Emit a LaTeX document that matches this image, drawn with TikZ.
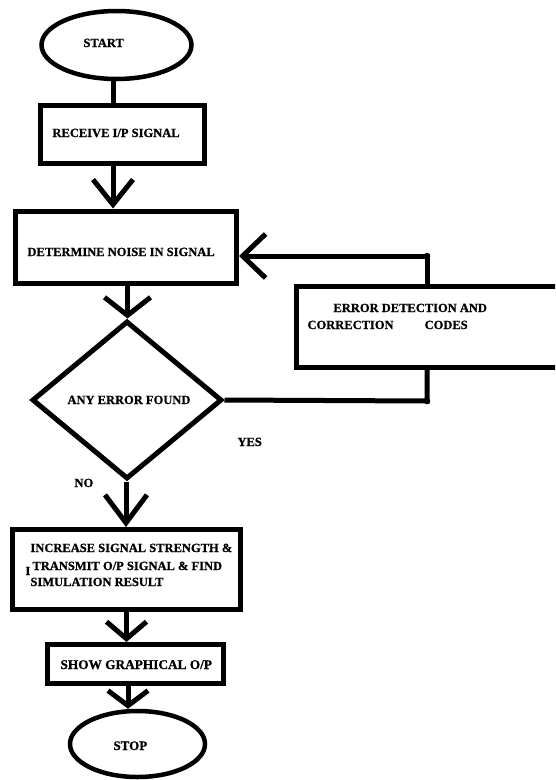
\documentclass[tikz,border=0pt]{standalone}
\usepackage{fontspec}
\setmainfont{Liberation Serif}[BoldFeatures={FakeBold=0.8}]
\usetikzlibrary{arrows.meta,shapes.geometric}
\begin{document}
\begin{tikzpicture}[x=1pt,y=-1pt,
  line width=5pt,
  box/.style={draw, rectangle, inner sep=0pt, line width=5pt},
  oval/.style={draw, ellipse, inner sep=0pt, line width=4.5pt},
  dia/.style={draw, diamond, inner sep=0pt, line width=5pt},
  txt/.style={font=\bfseries\fontsize{12.5}{15}\selectfont, inner sep=0pt, anchor=base west},
  chev/.style 2 args={-{Straight Barb[length=#1, width=#2]}},
  dot/.style={fill, circle, inner sep=0pt, minimum size=6.5pt}
]
\clip (0,0) rectangle (555,780);
\fill[white] (0,0) rectangle (555,780);

% shapes
\node[oval, minimum width=150pt, minimum height=68pt] (start) at (116.5,45) {};
\node[box, minimum width=164pt, minimum height=58pt] (receive) at (122.5,134.5) {};
\node[box, minimum width=221pt, minimum height=72pt] (det) at (126,247) {};
\node[dia, minimum width=190pt, minimum height=158pt] (decide) at (127,400) {};
\node[box, minimum width=320pt, minimum height=81pt] (err) at (456.5,327) {};
\node[box, minimum width=228pt, minimum height=80pt] (inc) at (126.5,569.5) {};
\node[box, minimum width=176pt, minimum height=39pt] (show) at (135.5,664) {};
\node[oval, minimum width=135pt, minimum height=66pt] (stop) at (137.5,744) {};

% texts
\node[txt] (starttxt) at (81,47) {START};
\node[txt] (rectxt) at (50,137) {RECEIVE I/P SIGNAL};
\node[txt] (dettxt) at (25,256) {DETERMINE NOISE IN SIGNAL};
\node[txt] (errtxta) at (331,312) {ERROR DETECTION AND};
\node[txt] (errtxtb) at (305,329) {CORRECTION\hspace{31pt}CODES};
\node[txt] (decidetxt) at (65,404) {ANY ERROR FOUND};
\node[txt] (yes) at (235,446) {YES};
\node[txt] (no) at (72,487) {NO};
\node[txt] (inca) at (28,552) {INCREASE SIGNAL STRENGTH \&};
\node[txt] (incb) at (30,570) {TRANSMIT O/P SIGNAL \& FIND};
\node[txt] (incc) at (28,586) {SIMULATION RESULT};
\node[txt] (incstray) at (23,575) {I};
\node[txt, font=\bfseries\fontsize{13.3}{15}\selectfont] (showtxt) at (58,669) {SHOW GRAPHICAL O/P};
\node[txt, font=\bfseries\fontsize{13}{15}\selectfont] (stoptxt) at (111,750) {STOP};

% connector guide coordinates
\coordinate (xa) at (113,0);
\coordinate (xb) at (127.5,0);
\coordinate (xc) at (126,0);
\coordinate (xd) at (126.5,0);
\coordinate (xe) at (128,0);
\coordinate (j1) at (427,256);
\coordinate (j2) at (427,401);

% connectors
\draw (start.south -| xa) -- (receive.north -| xa);
\draw[chev={25pt}{40pt}] (receive.south -| xa) -- (det.north -| xa);
\draw[chev={18pt}{46pt}] (det.south -| xb) -- (decide.north -| xb);
\draw[chev={28pt}{42pt}] (decide.south -| xc) -- (inc.north -| xc);
\draw[chev={17pt}{40pt}] (inc.south -| xd) -- (show.north -| xd);
\draw[chev={15pt}{40pt}] (show.south -| xe) -- (stop.north -| xe);
\draw[chev={23pt}{44pt}] (err.north -| j1) -- (j1) -- (det.east |- j1);
\draw (decide.east) -- (j2) -- (err.south -| j2);
\node[dot] (dota) at (j1) {};
\node[dot] (dotb) at (j2) {};
\end{tikzpicture}
\end{document}
